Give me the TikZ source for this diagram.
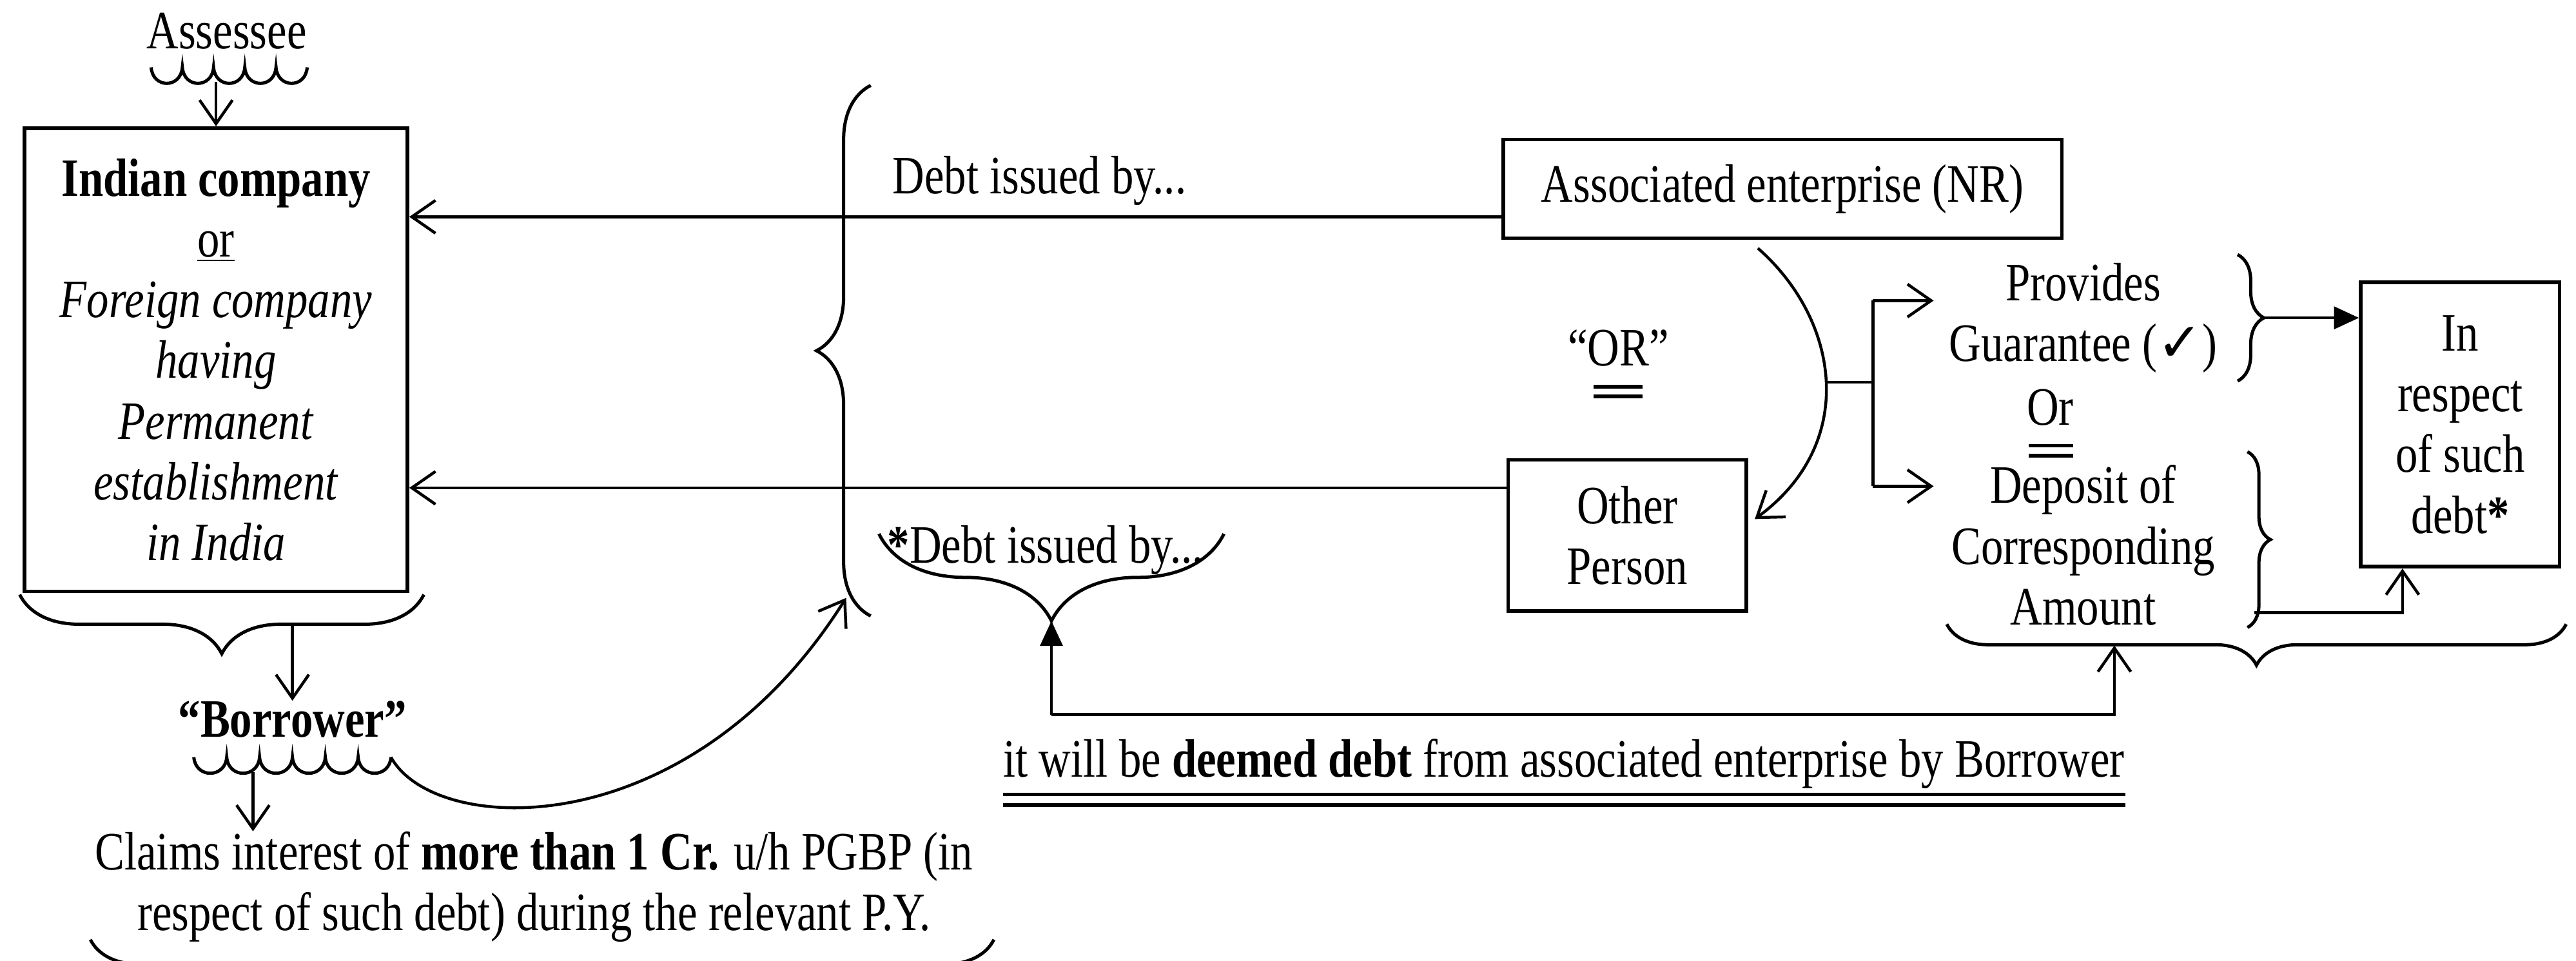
\documentclass[tikz,border=0pt]{standalone}
\usepackage{fontspec}
\setmainfont{Liberation Serif}[FakeStretch=0.82]
\newfontfamily\tickfont{DejaVu Sans}
\usetikzlibrary{arrows.meta,decorations.pathreplacing,calc}
\begin{document}
\begin{tikzpicture}[x=0.25mm,y=-0.25mm,
  txt/.style={font=\fontsize{23.4}{26.3}\selectfont, inner sep=0pt, align=center},
  box/.style={draw, line width=1.6pt, txt},
  conn/.style={line width=1.25pt},
  arr/.style={conn, -{Straight Barb[length=3.6mm,width=5mm]}},
  farr/.style={conn, -{Triangle[length=3.8mm,width=3.4mm]}},
  brc/.style={line width=1.4pt, decorate, decoration={brace, amplitude=#1}},
  wave/.style={line width=1.4pt, line join=miter},
  dbl/.style={line width=1.6pt},
  ]
\fill[white] (0,0) rectangle (1568,585);
\useasboundingbox (0,0) rectangle (1568,585);

% ---------- assessee and borrower box ----------
\node[txt] (assessee) at (138,19) {Assessee};
\draw[wave] (92,41) foreach \i in {1,...,5} {.. controls +(1,13) and +(-1,13) .. ++(19,0)};
\coordinate (aw) at (131.5,50);
\node[box, minimum width=58.25mm, minimum height=70.5mm] (bbox) at (131.5,219)
  {\textbf{Indian company}\\\underline{or}\\\textit{Foreign company}\\\textit{having}\\\textit{Permanent}\\\textit{establishment}\\\textit{in India}};
\draw[arr] (aw) -- (bbox.north);

\draw[brc=9mm] (258,362) -- (12,362);
\coordinate (bb) at (178,381);
\node[txt] (borrower) at (178,438) {\textbf{“Borrower”}};
\draw[arr] (bb) -- (bb |- borrower.north);

% wavy underline and the curve to the big brace
\draw[wave] (118,461) foreach \i in {1,...,6} {.. controls +(1,13) and +(-1,13) .. ++(20,0)};
\coordinate (bwend) at (238,461);
\coordinate (dbottom) at (515,364);
\draw[arr] (bwend) .. controls (265,510) and (420,515) .. (dbottom);

\coordinate (bw) at (154,470);
\node[txt] (claims) at (325,540)
  {Claims interest of \textbf{more than 1 Cr.} u/h PGBP (in\\respect of such debt) during the relevant P.Y.};
\draw[arr] (bw) -- (bw |- claims.north);
\draw[brc=7.5mm] (605,572) -- (55,572);

% ---------- debt issued by ----------
\draw[brc=8.25mm] (530,375) -- (530,52);
\node[txt, anchor=west] (debt1) at (543,110) {Debt issued by...};
\node[txt, anchor=west] (debt2) at (540,335) {\textbf{*}Debt issued by...};
\draw[brc=13.25mm] (745,325) -- (535,325);
\coordinate (d2tip) at (640,378);

% ---------- lenders ----------
\node[box, minimum width=85mm, minimum height=15mm] (ae) at (1085,115) {Associated enterprise (NR)};
\node[box, minimum width=36.25mm, minimum height=23mm] (other) at (990.5,326) {Other\\Person};
\draw[arr] ([yshift=-4.25mm]ae.west) -- ([yshift=-4.25mm]ae.west -| bbox.east);
\draw[arr] ([yshift=7.25mm]other.west) -- ([yshift=7.25mm]other.west -| bbox.east);

\node[txt] (or1) at (985,212) {“OR”};
\draw[dbl] ($(or1.south)+(-15,12)$) -- ++(30,0) ($(or1.south)+(-15,18)$) -- ++(30,0);

\draw[arr] ([xshift=-3.75mm,yshift=-1.25mm]ae.south) .. controls (1120,195) and (1131,270) ..
  node[pos=0.5, coordinate] (j) {} ([xshift=1mm,yshift=2.5mm]other.east);

% ---------- guarantee / deposit ----------
\coordinate (sp1) at (1140,183);
\coordinate (sp2) at (1140,296);
\coordinate (pa) at (1177,183);
\coordinate (da) at (1177,296);
\draw[conn] (j) -- (j -| sp1);
\draw[conn] (sp1) -- (sp2);
\draw[arr] (sp1) -- (pa);
\draw[arr] (sp2) -- (da);

\node[txt] (prov) at (1268,193.5) {Provides\\Guarantee ({\tickfont ✓})};
\node[txt] (or2) at (1248,248) {Or};
\draw[dbl] ($(or2.south)+(-13,12)$) -- ++(27,0) ($(or2.south)+(-13,18)$) -- ++(27,0);
\node[txt] (depo) at (1268,332) {Deposit of\\Corresponding\\Amount};
\draw[brc=4mm] (1362,155) -- (1362,232);
\draw[brc=3.5mm] (1368,275) -- (1368,382);

\node[box, minimum width=30.25mm, minimum height=43.25mm] (resp) at (1497.5,258.5) {In\\respect\\of such\\debt\textbf{*}};
\coordinate (b1tip) at (1379,193.5);
\draw[farr] (b1tip) -- (b1tip -| resp.west);
\coordinate (b2low) at (1372,373);
\draw[arr] (b2low) -| ($(resp.south west)!0.215!(resp.south east)$);
\draw[brc=6.25mm] (1562,380) -- (1185,380);

% ---------- deemed debt ----------
\coordinate (dl) at (640,435);
\coordinate (dr) at (1287,435);
\coordinate (b3) at (1287,393);
\draw[farr] (dl) -- (d2tip);
\draw[arr] (dl) -- (dr) -- (b3);
\node[txt] (deemed) at (952,465) {it will be \textbf{deemed debt} from associated enterprise by Borrower};
\draw[dbl] ([yshift=-0.8mm]deemed.south west) -- ([yshift=-0.8mm]deemed.south east)
           ([yshift=-2.4mm]deemed.south west) -- ([yshift=-2.4mm]deemed.south east);
\end{tikzpicture}
\end{document}
